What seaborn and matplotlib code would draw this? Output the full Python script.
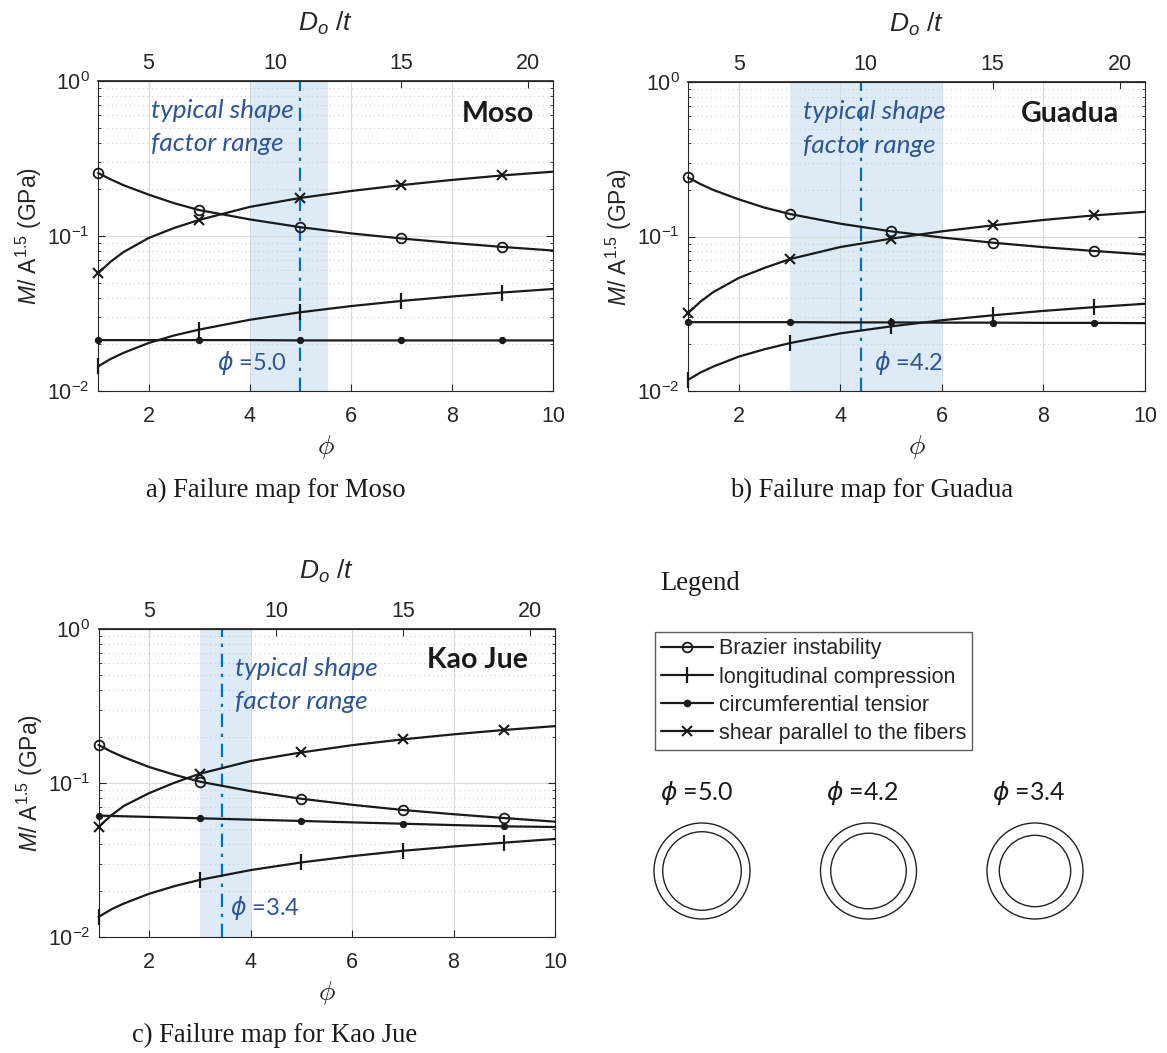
import numpy as np
import pandas as pd
import matplotlib
matplotlib.use("Agg")
import matplotlib.pyplot as plt
import seaborn as sns
from matplotlib.patches import Circle
from matplotlib.lines import Line2D
import matplotlib.ticker as mticker

# ---------------- data ----------------
phi = [1, 1.25, 1.5, 2, 2.5, 3, 4, 5, 6, 7, 8, 9, 10]
marker_phi = [1, 3, 5, 7, 9]

moso_brazier = [0.255, 0.232, 0.213, 0.185, 0.163, 0.147, 0.128, 0.114, 0.104, 0.0964, 0.0902, 0.0850, 0.0806]
moso_long = [0.0144, 0.0161, 0.0176, 0.0204, 0.0228, 0.0249, 0.0288, 0.0322, 0.0353, 0.0381, 0.0407, 0.0432, 0.0455]
moso_circ = [0.0213, 0.0213, 0.0213, 0.0213, 0.0213, 0.0213, 0.0213, 0.0212, 0.0212, 0.0212, 0.0212, 0.0212, 0.0212]
moso_shear = [0.0574, 0.0683, 0.0786, 0.0970, 0.1125, 0.127, 0.154, 0.176, 0.195, 0.213, 0.230, 0.246, 0.260]

guadua_brazier = [0.241, 0.218, 0.200, 0.174, 0.154, 0.140, 0.121, 0.108, 0.0985, 0.0912, 0.0853, 0.0806, 0.0765]
guadua_long = [0.0118, 0.0132, 0.0144, 0.0167, 0.0186, 0.0204, 0.0236, 0.0262, 0.0287, 0.0309, 0.0330, 0.0349, 0.0367]
guadua_circ = [0.0279, 0.0279, 0.0279, 0.0279, 0.0279, 0.0279, 0.0278, 0.0278, 0.0277, 0.0277, 0.0276, 0.0276, 0.0275]
guadua_shear = [0.0319, 0.0380, 0.0437, 0.0539, 0.0625, 0.0713, 0.0855, 0.0968, 0.108, 0.118, 0.128, 0.137, 0.1445]

kaojue_brazier = [0.1766, 0.160, 0.147, 0.127, 0.113, 0.102, 0.0885, 0.0790, 0.0722, 0.0668, 0.0627, 0.0592, 0.0561]
kaojue_long = [0.0135, 0.0151, 0.0165, 0.0191, 0.0214, 0.0235, 0.0272, 0.0305, 0.0335, 0.0363, 0.0387, 0.0410, 0.0433]
kaojue_circ = [0.0614, 0.0611, 0.0608, 0.0602, 0.0596, 0.0590, 0.0578, 0.0567, 0.0555, 0.0544, 0.0533, 0.0523, 0.0518]
kaojue_shear = [0.0518, 0.0616, 0.0710, 0.0860, 0.1005, 0.115, 0.139, 0.158, 0.176, 0.192, 0.207, 0.221, 0.234]

mode_labels = ["Brazier instability", "longitudinal compression",
               "circumferential tensior", "shear parallel to the fibers"]

species = ["Moso", "Guadua", "Kao Jue"]
captions = ["a) Failure map for Moso", "b) Failure map for Guadua", "c) Failure map for Kao Jue"]
range_lo = [4.0, 3.0, 3.0]
range_hi = [5.55, 6.0, 4.0]
typical_phi_line = [5.0, 4.4, 3.44]
typical_phi_label = ["5.0", "4.2", "3.4"]
circle_phi = [5.0, 4.2, 3.4]

series = {
    "Moso": [moso_brazier, moso_long, moso_circ, moso_shear],
    "Guadua": [guadua_brazier, guadua_long, guadua_circ, guadua_shear],
    "Kao Jue": [kaojue_brazier, kaojue_long, kaojue_circ, kaojue_shear],
}

# ---------------- style ----------------
sns.set_theme(style="white")
plt.rcParams["font.family"] = ["Liberation Sans", "DejaVu Sans"]
plt.rcParams["mathtext.fontset"] = "custom"
plt.rcParams["mathtext.rm"] = "Liberation Sans"
plt.rcParams["mathtext.it"] = "Liberation Sans:italic"
plt.rcParams["mathtext.bf"] = "Liberation Sans:bold"

AX = "#262626"
BLUE_TXT = "#2F5597"
BLUE_LINE = "#0072BD"
SHADE = "#DDEBF6"
TICK_FS = 15.5

marker_styles = [
    dict(marker="o", markersize=7, markerfacecolor="none", markeredgecolor="k", markeredgewidth=1.3),
    dict(marker="|", markersize=11, markeredgecolor="k", markeredgewidth=1.6),
    dict(marker="o", markersize=4.5, markerfacecolor="k", markeredgecolor="k"),
    dict(marker="x", markersize=7, markeredgecolor="k", markeredgewidth=1.5),
]

fig = plt.figure(figsize=(11.67, 10.53), dpi=100)
W, H = 1167.0, 1053.0

def fig_rect(x0, y0, x1, y1):
    return [x0 / W, 1 - y1 / H, (x1 - x0) / W, (y1 - y0) / H]

rects = [fig_rect(98, 81, 553, 391), fig_rect(688, 82, 1145, 391), fig_rect(98.5, 629, 555, 937)]
text_pos = [
    dict(ts=(0.1165, 0.906), fr=(0.1165, 0.797), name=(0.958, 0.894), phl=(0.2615, 0.090)),
    dict(ts=(0.2516, 0.903), fr=(0.2516, 0.793), name=(0.943, 0.896), phl=(0.407, 0.091)),
    dict(ts=(0.299, 0.873), fr=(0.299, 0.766), name=(0.941, 0.899), phl=(0.288, 0.094)),
]
caption_pos = [(276, 490), (872, 490), (275, 1035)]

mark_idx = [phi.index(v) for v in marker_phi]

for k, sp in enumerate(species):
    ax = fig.add_axes(rects[k])
    for j, vals in enumerate(series[sp]):
        d = pd.DataFrame({"phi": phi, "value": vals})
        sns.lineplot(data=d, x="phi", y="value", ax=ax, color="k", linewidth=1.6,
                     markevery=mark_idx, zorder=3, clip_on=False, **marker_styles[j])
    ax.axvspan(range_lo[k], range_hi[k], color=SHADE, zorder=0.3, lw=0)
    ax.axvline(typical_phi_line[k], color=BLUE_LINE, lw=1.6, ls=(0, (6, 3, 1.5, 3)), zorder=2.5)

    ax.set_yscale("log")
    ax.set_xlim(1, 10)
    ax.set_ylim(1e-2, 1)
    ax.set_xticks([2, 4, 6, 8, 10])
    ax.yaxis.set_major_locator(mticker.LogLocator(base=10, numticks=5))
    ax.yaxis.set_minor_locator(mticker.LogLocator(base=10, subs=np.arange(2, 10), numticks=20))
    ax.yaxis.set_minor_formatter(mticker.NullFormatter())
    ax.set_axisbelow(True)
    ax.grid(True, which="major", axis="both", color="#DADADA", lw=0.8)
    ax.grid(True, which="minor", axis="y", color="#D0D0D0", lw=0.8, ls=(0, (1, 3)))
    ax.tick_params(axis="both", which="both", direction="in", colors=AX, labelsize=TICK_FS,
                   right=True, top=False, left=True, bottom=True)
    ax.tick_params(which="major", length=5, width=0.8)
    ax.tick_params(which="minor", length=2.5, width=0.6)
    ax.tick_params(axis="x", which="major", pad=11)
    ax.tick_params(axis="y", which="major", pad=6)
    for s in ax.spines.values():
        s.set_color(AX)
        s.set_linewidth(0.8)
    ax.set_xlabel(r"$\phi$", fontsize=20, color=AX, math_fontfamily="cm", labelpad=4)
    ax.set_ylabel(r"$M/\ \mathrm{A}^{1.5}$ (GPa)", fontsize=16.5, color=AX, labelpad=2)

    sec = ax.secondary_xaxis("top", functions=(lambda p: 2 * p + 1, lambda d: (d - 1) / 2))
    sec.set_xticks([5, 10, 15, 20])
    sec.tick_params(direction="in", colors=AX, labelsize=TICK_FS, length=5, width=0.8, pad=5)
    sec.spines["top"].set_color(AX)
    sec.set_xlabel(r"$D_o\ /t$", fontsize=19, color=AX, labelpad=16)

    tp = text_pos[k]
    ax.text(*tp["ts"], "typical shape", transform=ax.transAxes, fontsize=18.8, style="italic",
            color=BLUE_TXT, family=["Lato", "DejaVu Sans"], ha="left", va="center")
    ax.text(*tp["fr"], "factor range", transform=ax.transAxes, fontsize=18.8, style="italic",
            color=BLUE_TXT, family=["Lato", "DejaVu Sans"], ha="left", va="center")
    ax.text(*tp["name"], sp, transform=ax.transAxes, fontsize=20.5, weight="bold",
            color="k", family=["Lato", "DejaVu Sans"], ha="right", va="center")
    ax.text(*tp["phl"], r"$\phi$ =" + typical_phi_label[k], transform=ax.transAxes, fontsize=17,
            color=BLUE_TXT, family=["Lato", "DejaVu Sans"], math_fontfamily="dejavusans",
            ha="left", va="center")

    cx, cy = caption_pos[k]
    fig.text(cx / W, 1 - cy / H, captions[k], fontsize=19.2, family=["Liberation Serif", "DejaVu Serif"],
             ha="center", va="center", color="k")

# ---------------- legend + cross sections ----------------
handles = [Line2D([0], [0], color="k", lw=1.6, **m) for m in marker_styles]
fig.legend(handles, mode_labels, loc="upper left", bbox_to_anchor=(655 / W, 1 - 632 / H),
           frameon=True, fancybox=False, edgecolor="#333333", fontsize=15.5, handlelength=2.4,
           handletextpad=0.25, labelspacing=0.33, borderpad=0.3, borderaxespad=0)

lax = fig.add_axes(fig_rect(640, 560, 1167, 1000))
lax.set_xlim(640, 1167)
lax.set_ylim(1000, 560)
lax.axis("off")
lax.text(660, 583, "Legend", fontsize=19.2, family=["Liberation Serif", "DejaVu Serif"],
         ha="left", va="center", color="k")
R = 48
for i, p in enumerate(circle_phi):
    cx = 702 + i * 166.5
    lax.add_patch(Circle((cx, 871), R, fill=False, ec="#222222", lw=1.0))
    lax.add_patch(Circle((cx, 871), R * (1 - 2 / (2 * p + 1)), fill=False, ec="#222222", lw=1.0))
    lax.text(660 + i * 166, 793, r"$\phi$ =" + f"{p:.1f}", fontsize=18, family=["Lato", "DejaVu Sans"],
             math_fontfamily="dejavusans", ha="left", va="center", color="k")

fig.savefig("out.png", dpi=100)
